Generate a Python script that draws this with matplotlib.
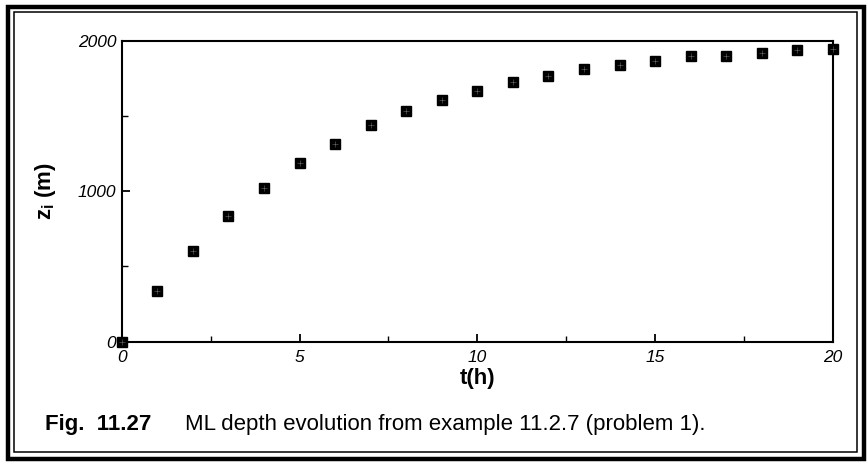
import numpy as np
import matplotlib
matplotlib.use('Agg')
import matplotlib.pyplot as plt
from matplotlib.patches import Rectangle

plt.rcParams['font.family'] = ['Liberation Sans', 'DejaVu Sans']
plt.rcParams['mathtext.fontset'] = 'custom'
plt.rcParams['mathtext.bf'] = 'Liberation Sans:bold'
plt.rcParams['mathtext.rm'] = 'Liberation Sans'

# ML depth (m) vs time (h)
t_hours = [0, 1, 2, 3, 4, 5, 6, 7, 8, 9, 10,
           11, 12, 13, 14, 15, 16, 17, 18, 19, 20]
zi_m = [0, 333, 605, 832, 1023, 1187, 1312, 1438, 1532, 1606, 1670,
        1730, 1766, 1812, 1839, 1866, 1897, 1902, 1920, 1938, 1945]

x_ticks = [0, 5, 10, 15, 20]
y_ticks = [0, 1000, 2000]
caption_no = "Fig.  11.27"
caption_txt = "ML depth evolution from example 11.2.7 (problem 1)."

fig = plt.figure(figsize=(8.68, 4.62), dpi=100)
ax = fig.add_axes([0.1402, 0.2608, 0.8195, 0.6505])

# black squares, faint cross inside like the scan
ax.plot(t_hours, zi_m, linestyle='none', marker='s', ms=6.5,
        color='black', clip_on=False, zorder=3)
ax.plot(t_hours, zi_m, linestyle='none', marker='+', ms=4,
        mew=0.4, color='#6a6a6a', clip_on=False, zorder=4)

ax.set_xlim(0, 20)
ax.set_ylim(0, 2000)
ax.set_xticks(x_ticks)
ax.set_xticks([2.5, 7.5, 12.5, 17.5], minor=True)
ax.set_yticks(y_ticks)
ax.set_yticks([500, 1500], minor=True)
ax.set_xticklabels([str(v) for v in x_ticks], fontstyle='italic', fontsize=12.5)
ax.set_yticklabels([str(v) for v in y_ticks], fontstyle='italic', fontsize=12.5)

ax.tick_params(which='major', direction='in', length=6, width=1.3)
ax.tick_params(which='minor', direction='in', length=4, width=1.0)
ax.tick_params(axis='x', which='major', pad=6)
ax.tick_params(axis='y', which='major', pad=4)

for sp in ax.spines.values():
    sp.set_linewidth(1.5)

ax.set_xlabel('t(h)', fontsize=16, fontweight='bold')
ax.xaxis.set_label_coords(0.5, -0.088)
ax.set_ylabel(r'$\mathbf{z_i}$ $\mathbf{(m)}$', fontsize=16)
ax.yaxis.set_label_coords(-0.09, 0.5)

# caption
fig.text(45 / 868, 1 - 430 / 462, caption_no, fontsize=16, fontweight='bold',
         ha='left', va='baseline')
fig.text(185 / 868, 1 - 430 / 462, caption_txt, fontsize=16,
         ha='left', va='baseline')

# double frame around the whole figure
fig.patches.append(Rectangle((7.5 / 868, 3.5 / 462), 856 / 868, 452 / 462,
                             transform=fig.transFigure, fill=False,
                             edgecolor='black', linewidth=3.2))
fig.patches.append(Rectangle((13.5 / 868, 10 / 462), 843 / 868, 440 / 462,
                             transform=fig.transFigure, fill=False,
                             edgecolor='black', linewidth=1.1))

fig.savefig('out.png', dpi=100)
